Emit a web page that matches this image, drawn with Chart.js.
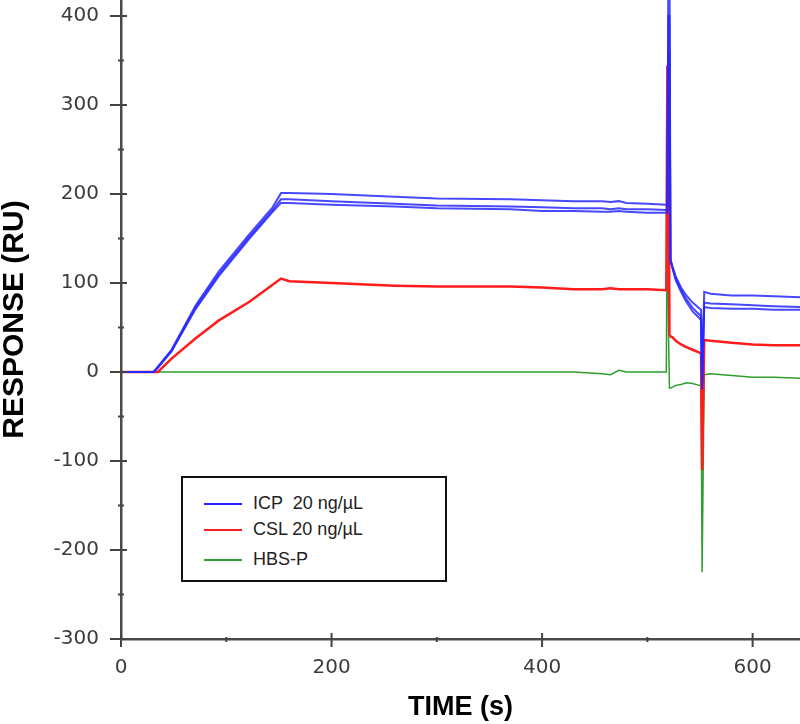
<!DOCTYPE html>
<html>
<head>
<meta charset="utf-8">
<script src="https://cdn.jsdelivr.net/npm/chart.js@4/dist/chart.umd.min.js"></script>
<style>
  html, body { margin: 0; padding: 0; background: #fff; }
  #wrap { position: relative; width: 800px; height: 724px; }
  #legend {
    position: absolute; left: 181px; top: 476px; width: 262px; height: 102px;
    border: 2px solid #111; background: #fff;
    font-family: "Liberation Sans", Arial, sans-serif; font-size: 18px; color: #222;
  }
  #legend .item { position: absolute; left: 21px; height: 20px; line-height: 20px; white-space: pre; }
  #legend .swatch { display: inline-block; width: 38px; height: 2px; vertical-align: middle; margin-right: 11px; }
</style>
</head>
<body>
<div id="wrap">
  <canvas id="c"></canvas>
  <div id="legend"></div>
</div>
<script>
// 時間軸 (s) — 全系列共通のサンプル点
const timeS = [0, 31, 35, 48, 71, 93, 122, 144, 152, 160,
  200, 260, 300, 370, 400, 430, 457, 465, 473, 480,
  500, 518, 519, 520, 521, 522, 524, 527, 532, 537,
  543, 549, 551, 552, 554, 560, 580, 600, 620, 645];

// ICP 20 ng/µL（3本の反復）
const icp1 = [0, 0, 6, 25, 75, 113, 155, 185, 201, 201,
  200, 197, 195, 194, 193, 192, 192, 191, 192, 190,
  189, 188, 188, 470, 470, 126, 118, 107, 95, 86,
  78, 72, 70, -20, 90, 88, 86, 86, 85, 84];
const icp2 = [0, 0, 5, 24, 73, 110, 152, 182, 194, 194,
  192, 189, 187, 186, 185, 184, 184, 183, 184, 183,
  183, 182, 182, 400, 400, 126, 117, 105, 92, 82,
  72, 65, 63, -15, 78, 77, 76, 75, 74, 73];
const icp3 = [0, 0, 5, 23, 71, 108, 150, 180, 190, 190,
  188, 186, 184, 183, 181, 181, 180, 180, 181, 180,
  179, 179, 179, 360, 360, 125, 116, 103, 90, 79,
  68, 61, 58, -10, 73, 72, 71, 71, 70, 70];

// CSL 20 ng/µL
const csl = [0, 0, 0, 15, 38, 58, 79, 98, 105, 102,
  100, 97, 96, 96, 95, 93, 93, 94, 93, 93,
  93, 92, 343, 343, 42, 40, 39, 35, 31, 28,
  25, 22, 21, -110, 36, 35, 33, 31, 30, 30];

// HBS-P（バッファのみ）
const hbs = [0, 0, 0, 0, 0, 0, 0, 0, 0, 0,
  0, 0, 0, 0, 0, 0, -2, -3, 2, 0,
  0, 0, 230, 47, -18, -18, -17, -15, -14, -12,
  -13, -15, -15, -225, -3, -2, -4, -6, -6, -7];

const xTicks = [0, 200, 400, 600];
const xMinorTicks = [100, 300, 500];
const yTicks = [-300, -200, -100, 0, 100, 200, 300, 400];
const yMinorTicks = [-250, -150, -50, 50, 150, 250, 350];

const pts = vals => vals.map((v, i) => ({ x: timeS[i], y: v }));

const BLUE = '#2424ff';
const RED = '#ff1c1c';
const GREEN = '#2e9e2e';

// 軸の目盛り（軸線をまたぐ主目盛りと小さな副目盛り）
const axisTicks = {
  id: 'axisTicks',
  afterDraw(chart) {
    const { ctx, scales: { x, y } } = chart;
    const ax = x.left, ay = y.bottom;
    ctx.save();
    ctx.strokeStyle = '#444';
    ctx.lineWidth = 2;
    ctx.beginPath();
    yTicks.forEach(v => { const p = y.getPixelForValue(v); ctx.moveTo(ax - 11, p); ctx.lineTo(ax + 6, p); });
    yMinorTicks.forEach(v => { const p = y.getPixelForValue(v); ctx.moveTo(ax - 3, p); ctx.lineTo(ax + 3, p); });
    xTicks.forEach(v => { const p = x.getPixelForValue(v); ctx.moveTo(p, ay - 6); ctx.lineTo(p, ay + 8); });
    xMinorTicks.forEach(v => { const p = x.getPixelForValue(v); ctx.moveTo(p, ay - 2); ctx.lineTo(p, ay + 3); });
    ctx.stroke();
    ctx.restore();
  },
};

// 凡例（HTML）
const htmlLegend = {
  id: 'htmlLegend',
  afterUpdate(chart) {
    const box = document.getElementById('legend');
    box.innerHTML = '';
    const tops = [15, 41, 71];
    chart.data.datasets.filter(ds => !ds.hideInLegend).forEach((ds, i) => {
      const item = document.createElement('div');
      item.className = 'item';
      item.style.top = tops[i] + 'px';
      const sw = document.createElement('span');
      sw.className = 'swatch';
      sw.style.background = ds.legendColor || ds.borderColor;
      item.appendChild(sw);
      item.appendChild(document.createTextNode(ds.label));
      box.appendChild(item);
    });
  },
};

const lineDs = (label, data, color, width, extra) => Object.assign({
  label,
  data: pts(data),
  borderColor: color,
  borderWidth: width,
  pointRadius: 0,
  tension: 0,
  fill: false,
}, extra || {});

new Chart(document.getElementById('c'), {
  type: 'line',
  data: {
    datasets: [
      lineDs('ICP  20 ng/\u00b5L', icp1, 'rgba(40,40,255,0.85)', 2, { legendColor: BLUE }),
      lineDs('ICP rep 2', icp2, 'rgba(40,40,255,0.85)', 2, { hideInLegend: true }),
      lineDs('ICP rep 3', icp3, 'rgba(40,40,255,0.85)', 2, { hideInLegend: true }),
      lineDs('CSL 20 ng/\u00b5L', csl, RED, 2.5),
      lineDs('HBS-P', hbs, GREEN, 1.5),
    ],
  },
  options: {
    responsive: true,
    maintainAspectRatio: false,
    animation: false,
    layout: { padding: 0 },
    plugins: {
      legend: { display: false },
      tooltip: { enabled: false },
    },
    scales: {
      x: {
        type: 'linear',
        min: 0,
        max: 645,
        grid: { display: false, drawTicks: false },
        border: { display: true, color: '#4a4a4a', width: 2.5 },
        ticks: {
          stepSize: 200,
          includeBounds: false,
          padding: 17,
          color: '#3c3c3c',
          font: { family: 'DejaVu Sans', size: 20 },
          maxRotation: 0,
        },
        title: {
          display: true,
          text: 'TIME (s)',
          color: '#000',
          font: { family: 'Liberation Sans', size: 27, weight: 'bold' },
          padding: 0,
        },
        afterFit(scale) {
          scale.height = 85;
          scale.paddingLeft = 0;
          scale.paddingRight = 0;
        },
      },
      y: {
        min: -300,
        max: 418,
        grid: { display: false, drawTicks: false },
        border: { display: true, color: '#4a4a4a', width: 2.5 },
        ticks: {
          stepSize: 100,
          includeBounds: false,
          padding: 22,
          color: '#3c3c3c',
          font: { family: 'DejaVu Sans', size: 20 },
        },
        title: {
          display: true,
          text: 'RESPONSE (RU)',
          color: '#000',
          font: { family: 'Liberation Sans', size: 30, weight: 'bold', lineHeight: 1 },
          padding: 0,
        },
        afterFit(scale) {
          scale.width = 121;
          scale.paddingTop = 0;
          scale.paddingBottom = 0;
        },
      },
    },
  },
  plugins: [axisTicks, htmlLegend],
});
</script>
</body>
</html>
